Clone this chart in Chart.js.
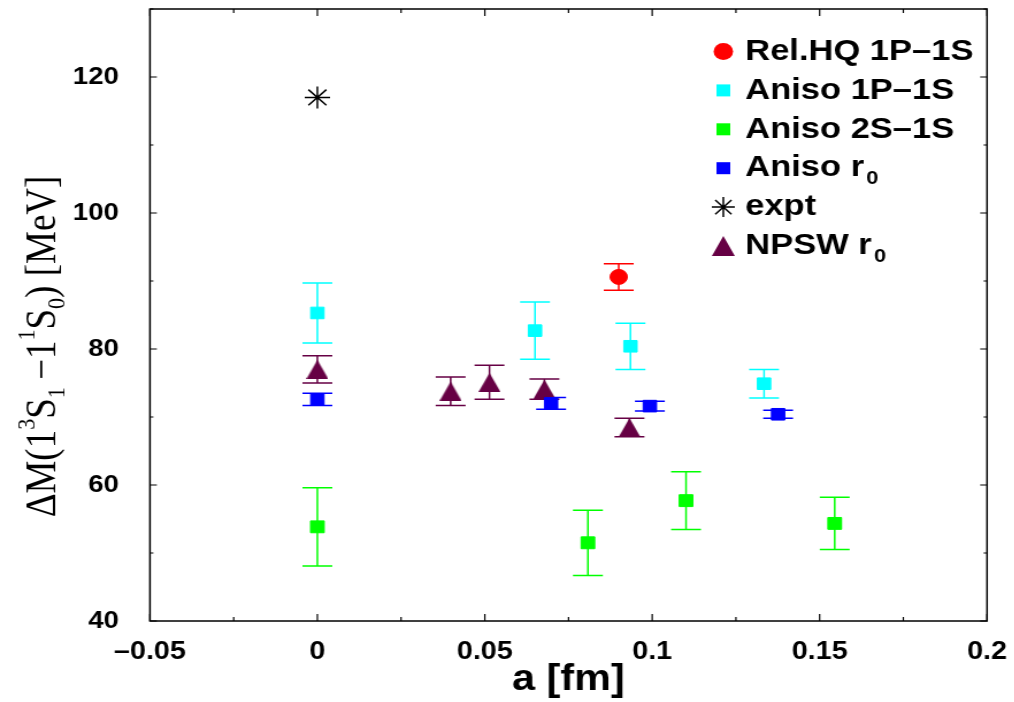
<!DOCTYPE html>
<html lang="en">
<head>
<meta charset="UTF-8">
<title>Hyperfine splitting vs lattice spacing</title>
<script src="https://cdn.jsdelivr.net/npm/chart.js"></script>
<style>
  html, body { margin: 0; padding: 0; background: #fff; overflow: hidden; }
  /* the original figure is a little wider than tall in every glyph, so stretch it */
  #wrap { position: absolute; left: 0; top: 0; width: 882px; height: 702px;
          transform: scaleX(1.15); transform-origin: 0 0; }
</style>
</head>
<body>
<div id="wrap"><canvas id="splitChart"></canvas></div>
<script>
// a [fm] on x, splitting [MeV] on y, symmetric errors
const relHqX = [0.090];
const relHqY = [90.6];
const relHqErr = [1.95];

const aniso1PX = [0, 0.065, 0.0935, 0.1334];
const aniso1PY = [85.3, 82.7, 80.4, 74.9];
const aniso1PErr = [4.4, 4.2, 3.4, 2.1];

const aniso2SX = [0, 0.0808, 0.1101, 0.1545];
const aniso2SY = [53.85, 51.5, 57.7, 54.35];
const aniso2SErr = [5.75, 4.8, 4.25, 3.85];

const anisoR0X = [0, 0.0698, 0.0993, 0.1376];
const anisoR0Y = [72.6, 72.0, 71.6, 70.4];
const anisoR0Err = [0.9, 0.85, 0.7, 0.6];

const exptX = [0];
const exptY = [117.0];

const npswX = [0, 0.0398, 0.0514, 0.0678, 0.0932];
const npswY = [77.0, 73.8, 75.1, 74.1, 68.45];
const npswErr = [2.0, 2.1, 2.5, 1.5, 1.35];

const seriesLabels = ['Rel.HQ 1P–1S', 'Aniso 1P–1S', 'Aniso 2S–1S', 'Aniso r_0', 'expt', 'NPSW r_0'];
const yTitleParts = [['ΔM(1', ''], ['3', 'sup'], ['S', ''], ['1', 'sub'], ['\u2009−1', ''], ['1', 'sup'], ['S', ''], ['0', 'sub'], [') [MeV]', '']];

const SANS = '"Liberation Sans", Arial, Helvetica, sans-serif';
const SERIF = '"Liberation Serif", "Times New Roman", serif';

function pts(xs, ys) {
    return xs.map((x, i) => ({ x: x, y: ys[i] }));
}

function fmtX(v) {
    const r = Math.round(v * 1000) / 1000;
    if (r === 0) return '0';
    return (r < 0 ? '–' : '') + String(Math.abs(r));
}

// triangle whose box is centred on the point (the built-in one sits high)
function triangleImage(w, h, color) {
    const c = document.createElement('canvas');
    c.width = w; c.height = h;
    const g = c.getContext('2d');
    g.fillStyle = color;
    g.beginPath();
    g.moveTo(w / 2, 0);
    g.lineTo(w, h);
    g.lineTo(0, h);
    g.closePath();
    g.fill();
    return c;
}

// vertical error bars with caps, under the markers
const errorBars = {
    id: 'errorBars',
    beforeDatasetsDraw(chart) {
        const ctx = chart.ctx;
        const ys = chart.scales.y;
        chart.data.datasets.forEach((ds, i) => {
            if (!ds.errors) return;
            const meta = chart.getDatasetMeta(i);
            ctx.save();
            ctx.strokeStyle = ds.borderColor;
            ctx.lineWidth = 1.5;
            meta.data.forEach((el, j) => {
                const yv = ds.data[j].y, e = ds.errors[j];
                const top = ys.getPixelForValue(yv + e);
                const bot = ys.getPixelForValue(yv - e);
                const cap = 13;
                ctx.beginPath();
                ctx.moveTo(el.x, top); ctx.lineTo(el.x, bot);
                ctx.moveTo(el.x - cap, top); ctx.lineTo(el.x + cap, top);
                ctx.moveTo(el.x - cap, bot); ctx.lineTo(el.x + cap, bot);
                ctx.stroke();
            });
            ctx.restore();
        });
    }
};

function drawMarker(ctx, style, x, y, r, color) {
    ctx.save();
    ctx.fillStyle = color;
    ctx.strokeStyle = color;
    ctx.lineWidth = 1.5;
    ctx.beginPath();
    if (style === 'circle') {
        ctx.arc(x, y, r, 0, Math.PI * 2);
        ctx.fill();
    } else if (style === 'rect') {
        ctx.rect(x - r, y - r, 2 * r, 2 * r);
        ctx.fill();
    } else if (style === 'triangle') {
        ctx.moveTo(x, y - r);
        ctx.lineTo(x + r, y + r);
        ctx.lineTo(x - r, y + r);
        ctx.closePath();
        ctx.fill();
    } else if (style === 'star') {
        for (let k = 0; k < 4; k++) {
            const a = k * Math.PI / 4;
            ctx.moveTo(x - r * Math.cos(a), y - r * Math.sin(a));
            ctx.lineTo(x + r * Math.cos(a), y + r * Math.sin(a));
        }
        ctx.stroke();
    }
    ctx.restore();
}

// frame, inward ticks on all four sides, legend and the y title
const frameAndLegend = {
    id: 'frameAndLegend',
    afterDraw(chart) {
        const ctx = chart.ctx;
        const { left, right, top, bottom } = chart.chartArea;
        const xs = chart.scales.x, ys = chart.scales.y;
        ctx.save();
        ctx.strokeStyle = '#000';
        ctx.lineWidth = 1.5;
        ctx.strokeRect(left, top, right - left, bottom - top);

        ctx.lineWidth = 1.2;
        ctx.beginPath();
        const xt = xs.ticks.map(t => t.value);
        xt.forEach((v, i) => {
            const px = xs.getPixelForValue(v);
            ctx.moveTo(px, bottom); ctx.lineTo(px, bottom - 7);
            ctx.moveTo(px, top); ctx.lineTo(px, top + 7);
            if (i < xt.length - 1) {
                const pm = xs.getPixelForValue((v + xt[i + 1]) / 2);
                ctx.moveTo(pm, bottom); ctx.lineTo(pm, bottom - 4);
                ctx.moveTo(pm, top); ctx.lineTo(pm, top + 4);
            }
        });
        ys.ticks.forEach(t => {
            const py = ys.getPixelForValue(t.value);
            const len = t.value % 20 === 0 ? 6 : 3;
            ctx.moveTo(left, py); ctx.lineTo(left + len, py);
            ctx.moveTo(right, py); ctx.lineTo(right - len, py);
        });
        ctx.stroke();

        // legend
        const rowY0 = 51.5, rowStep = 38.9, markX = 629, textX = 648;
        chart.data.datasets.forEach((ds, i) => {
            const y = rowY0 + i * rowStep;
            drawMarker(ctx, ds.legendStyle, markX, y, ds.legendSize, ds.backgroundColor);
            const [main, sub] = seriesLabels[i].split('_');
            ctx.fillStyle = '#000';
            ctx.textBaseline = 'middle';
            ctx.textAlign = 'left';
            ctx.font = 'bold 30px ' + SANS;
            ctx.fillText(main, textX, y);
            if (sub) {
                const w = ctx.measureText(main).width;
                ctx.font = 'bold 19px ' + SANS;
                ctx.fillText(sub, textX + w + 2, y + 11);
            }
        });

        // rotated y title with super and subscripts
        const fs = 37, small = 22;
        ctx.textBaseline = 'alphabetic';
        let total = 0;
        yTitleParts.forEach(([t, kind]) => {
            ctx.font = (kind ? small : fs) + 'px ' + SERIF;
            total += ctx.measureText(t).width;
        });
        ctx.translate(47.5, 346.5);
        ctx.rotate(-Math.PI / 2);
        let u = -total / 2;
        yTitleParts.forEach(([t, kind]) => {
            ctx.font = (kind ? small : fs) + 'px ' + SERIF;
            const v = kind === 'sup' ? -fs * 0.48 : (kind === 'sub' ? fs * 0.24 : 0);
            ctx.fillText(t, u, v);
            u += ctx.measureText(t).width;
        });
        ctx.restore();
    }
};

const ctx = document.getElementById('splitChart').getContext('2d');

const splitChart = new Chart(ctx, {
    type: 'scatter',
    data: {
        datasets: [
            { label: seriesLabels[0], data: pts(relHqX, relHqY), errors: relHqErr,
              pointStyle: 'circle', pointRadius: 7.5, backgroundColor: '#ff0000', borderColor: '#ff0000',
              borderWidth: 1, legendStyle: 'circle', legendSize: 8.5 },
            { label: seriesLabels[1], data: pts(aniso1PX, aniso1PY), errors: aniso1PErr,
              pointStyle: 'rect', pointRadius: 8.2, backgroundColor: '#00ffff', borderColor: '#00ffff',
              borderWidth: 1, legendStyle: 'rect', legendSize: 6 },
            { label: seriesLabels[2], data: pts(aniso2SX, aniso2SY), errors: aniso2SErr,
              pointStyle: 'rect', pointRadius: 8.4, backgroundColor: '#00ff00', borderColor: '#00ff00',
              borderWidth: 1, legendStyle: 'rect', legendSize: 6 },
            { label: seriesLabels[3], data: pts(anisoR0X, anisoR0Y), errors: anisoR0Err,
              pointStyle: 'rect', pointRadius: 8.2, backgroundColor: '#0000ff', borderColor: '#0000ff',
              borderWidth: 1, legendStyle: 'rect', legendSize: 6 },
            { label: seriesLabels[4], data: pts(exptX, exptY),
              pointStyle: 'star', pointRadius: 11, backgroundColor: '#000000', borderColor: '#000000',
              borderWidth: 1.5, legendStyle: 'star', legendSize: 10 },
            { label: seriesLabels[5], data: pts(npswX, npswY), errors: npswErr,
              pointStyle: triangleImage(19, 19, '#660044'), backgroundColor: '#660044', borderColor: '#660044',
              borderWidth: 1, legendStyle: 'triangle', legendSize: 10 }
        ]
    },
    options: {
        responsive: true,
        maintainAspectRatio: false,
        animation: false,
        layout: { autoPadding: false, padding: { left: 0, right: 23.7, top: 9, bottom: 0 } },
        plugins: {
            legend: { display: false },
            tooltip: { enabled: false }
        },
        scales: {
            x: {
                type: 'linear',
                min: -0.05,
                max: 0.2,
                grid: { display: false },
                border: { display: false },
                ticks: {
                    stepSize: 0.05,
                    padding: 8,
                    color: '#000',
                    maxRotation: 0,
                    autoSkip: false,
                    font: { family: SANS, size: 25, weight: 'bold' },
                    callback: v => fmtX(v)
                },
                title: {
                    display: true,
                    text: 'a [fm]',
                    color: '#000',
                    font: { family: SANS, size: 36, weight: 'bold' },
                    padding: { top: 0, bottom: 0 }
                },
                afterFit(scale) {
                    scale.height = 81;
                    scale.paddingLeft = 0;
                    scale.paddingRight = 0;
                }
            },
            y: {
                type: 'linear',
                min: 40,
                max: 130,
                grid: { display: false },
                border: { display: false },
                ticks: {
                    stepSize: 10,
                    padding: 19,
                    color: '#000',
                    font: { family: SANS, size: 24, weight: 'bold' },
                    callback: v => (v % 20 === 0 ? String(v) : '')
                },
                afterFit(scale) {
                    scale.width = 130.4;
                    scale.paddingTop = 0;
                    scale.paddingBottom = 0;
                }
            }
        }
    },
    plugins: [errorBars, frameAndLegend]
});
</script>
</body>
</html>
